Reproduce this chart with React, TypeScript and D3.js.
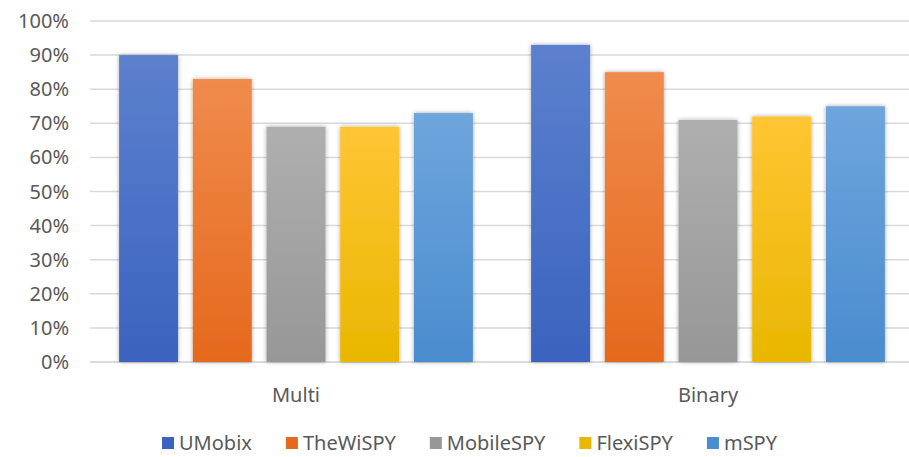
import React, { useRef, useEffect } from "react";
import * as d3 from "d3";

const categories = ["Multi", "Binary"];
const seriesNames = ["UMobix", "TheWiSPY", "MobileSPY", "FlexiSPY", "mSPY"];
const multiValues = [0.9, 0.83, 0.69, 0.69, 0.73];
const binaryValues = [0.93, 0.85, 0.71, 0.72, 0.75];
const yTicks = [0, 0.1, 0.2, 0.3, 0.4, 0.5, 0.6, 0.7, 0.8, 0.9, 1];

// top / bottom colours of each bar gradient
const topColors = ["#5c80ce", "#f08b4c", "#afafaf", "#ffc534", "#6ea5dc"];
const bottomColors = ["#3a63bf", "#e5691d", "#979797", "#e9b700", "#4a8ccf"];

const W = 909;
const H = 457;

const App: React.FC = () => {
  const svgRef = useRef<SVGSVGElement>(null);

  useEffect(() => {
    document.body.style.margin = "0";
    const svg = d3.select(svgRef.current);
    svg.selectAll("*").remove();

    const font = "'Noto Sans', 'Open Sans', sans-serif";
    const textColor = "#595959";

    const rows = [multiValues, binaryValues];

    const y = d3.scaleLinear().domain([0, 1]).range([362, 21]);
    const x0 = d3.scaleBand().domain(categories).range([90, 914]);
    const x1 = d3
      .scaleBand()
      .domain(seriesNames)
      .range([0, x0.bandwidth()])
      .paddingInner(0.2)
      .paddingOuter(0.395);

    const defs = svg.append("defs");
    seriesNames.forEach((s, i) => {
      const g = defs
        .append("linearGradient")
        .attr("id", "grad" + i)
        .attr("x1", 0)
        .attr("y1", 0)
        .attr("x2", 0)
        .attr("y2", 1);
      g.append("stop").attr("offset", "0%").attr("stop-color", topColors[i]);
      g.append("stop").attr("offset", "100%").attr("stop-color", bottomColors[i]);
    });
    const f = defs
      .append("filter")
      .attr("id", "shadow")
      .attr("x", "-20%")
      .attr("y", "-10%")
      .attr("width", "140%")
      .attr("height", "120%");
    f.append("feDropShadow")
      .attr("dx", 0)
      .attr("dy", 0)
      .attr("stdDeviation", 2)
      .attr("flood-color", "#000")
      .attr("flood-opacity", 0.35);

    // gridlines
    svg
      .append("g")
      .selectAll("line")
      .data(yTicks)
      .enter()
      .append("line")
      .attr("x1", 90)
      .attr("x2", W)
      .attr("y1", (d) => y(d))
      .attr("y2", (d) => y(d))
      .attr("stroke", (d) => (d === 0 ? "#cfcfcf" : "#d9d9d9"))
      .attr("stroke-width", 1.5);

    // y tick labels
    svg
      .append("g")
      .selectAll("text")
      .data(yTicks)
      .enter()
      .append("text")
      .attr("x", 69)
      .attr("y", (d) => y(d))
      .attr("dy", "0.35em")
      .attr("text-anchor", "end")
      .attr("font-family", font)
      .attr("font-size", 20)
      .attr("fill", textColor)
      .text((d) => d3.format(".0%")(d));

    // bars
    categories.forEach((c, ci) => {
      const g = svg.append("g").attr("transform", `translate(${x0(c)},0)`);
      g.selectAll("rect")
        .data(rows[ci])
        .enter()
        .append("rect")
        .attr("x", (d, i) => x1(seriesNames[i]) as number)
        .attr("y", (d) => y(d))
        .attr("width", x1.bandwidth())
        .attr("height", (d) => y(0) - y(d))
        .attr("fill", (d, i) => `url(#grad${i})`)
        .attr("filter", "url(#shadow)");
    });

    // category labels
    svg
      .append("g")
      .selectAll("text")
      .data(categories)
      .enter()
      .append("text")
      .attr("x", (d) => (x0(d) as number) + x0.bandwidth() / 2)
      .attr("y", 402)
      .attr("text-anchor", "middle")
      .attr("font-family", font)
      .attr("font-size", 20)
      .attr("fill", textColor)
      .text((d) => d);

    // legend
    const legend = svg.append("g");
    let lx = 162;
    seriesNames.forEach((s, i) => {
      legend
        .append("rect")
        .attr("x", lx)
        .attr("y", 437)
        .attr("width", 12)
        .attr("height", 12)
        .attr("fill", bottomColors[i]);
      const t = legend
        .append("text")
        .attr("x", lx + 17)
        .attr("y", 450)
        .attr("font-family", font)
        .attr("font-size", 20)
        .attr("fill", textColor)
        .text(s);
      const len = (t.node() as SVGTextElement).getComputedTextLength();
      lx = lx + 17 + len + 34;
    });
  }, []);

  return <svg ref={svgRef} width={W} height={H} style={{ display: "block", background: "#fff" }} />;
};

export default App;
